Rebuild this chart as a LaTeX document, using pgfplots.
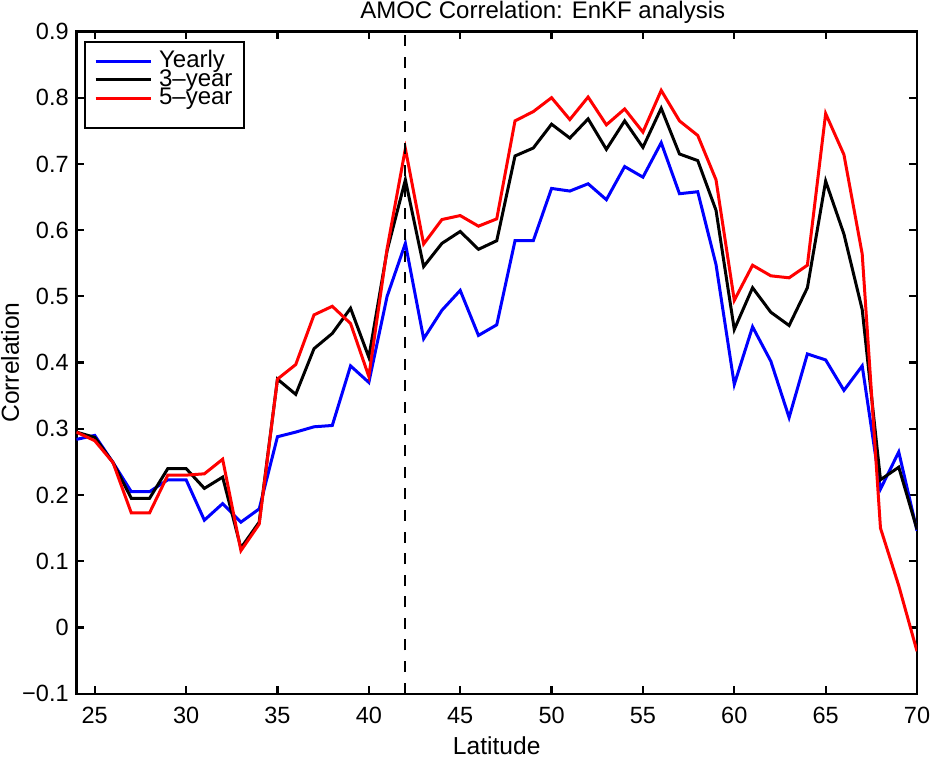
\documentclass[border=0pt]{standalone}
\usepackage{fontspec}
\setmainfont{Liberation Sans}
\usepackage{pgfplots}
\pgfplotsset{compat=1.18}
\pgfplotstableread{
lat yearly three five
24 0.284 0.295 0.295
25 0.290 0.287 0.282
26 0.249 0.249 0.249
27 0.205 0.195 0.173
28 0.205 0.195 0.173
29 0.223 0.240 0.230
30 0.223 0.240 0.230
31 0.162 0.210 0.232
32 0.187 0.227 0.254
33 0.159 0.120 0.116
34 0.179 0.159 0.156
35 0.288 0.375 0.375
36 0.295 0.352 0.397
37 0.303 0.421 0.472
38 0.305 0.444 0.485
39 0.395 0.482 0.459
40 0.370 0.408 0.379
41 0.500 0.569 0.572
42 0.580 0.676 0.723
43 0.436 0.545 0.579
44 0.479 0.580 0.616
45 0.509 0.598 0.622
46 0.441 0.571 0.606
47 0.457 0.584 0.617
48 0.584 0.712 0.765
49 0.584 0.724 0.779
50 0.663 0.760 0.800
51 0.659 0.739 0.767
52 0.670 0.768 0.801
53 0.646 0.722 0.759
54 0.696 0.765 0.783
55 0.680 0.725 0.748
56 0.732 0.784 0.811
57 0.655 0.715 0.765
58 0.658 0.705 0.743
59 0.548 0.630 0.676
60 0.367 0.450 0.494
61 0.454 0.513 0.547
62 0.402 0.476 0.531
63 0.317 0.456 0.528
64 0.413 0.513 0.547
65 0.404 0.674 0.776
66 0.358 0.594 0.714
67 0.395 0.480 0.564
68 0.209 0.223 0.150
69 0.265 0.242 0.063
70 0.146 0.148 -0.036
}\datatable
\begin{document}
\begin{tikzpicture}[font=\fontsize{12.3}{15}\selectfont]
\begin{axis}[
  scale only axis, width=420.5pt, height=331.25pt,
  xmin=24, xmax=70, ymin=-0.1, ymax=0.9,
  xtick={25,30,...,70},
  ytick={-0.1,0,0.1,0.2,0.3,0.4,0.5,0.6,0.7,0.8,0.9},
  yticklabels={−0.1,0,0.1,0.2,0.3,0.4,0.5,0.6,0.7,0.8,0.9},
  /pgf/number format/assume math mode=true,
  tick align=inside, major tick length=3.85pt,
  axis line style={line width=1.1pt},
  every tick/.style={black, line width=1.1pt},
  ticklabel style={font=\fontsize{11.75}{14}\selectfont},
  xticklabel style={yshift=-3.1pt},
  yticklabel style={xshift=-0.4pt},
  title={AMOC Correlation: EnKF analysis},
  every axis title/.style={at={([xshift=23pt,yshift=6.6pt]axis description cs:0.5,1)}, anchor=base, inner sep=0pt, font=\fontsize{12}{14}\selectfont},
  xlabel={Latitude},
  every axis x label/.style={at={([yshift=-30.3pt]axis description cs:0.5,0)}, anchor=base, inner sep=0pt},
  ylabel={Correlation},
  every axis y label/.style={at={([xshift=-28.8pt]axis description cs:0,0.5)}, rotate=90, anchor=base, inner sep=0pt},
  legend style={at={([xshift=8.85pt,yshift=-10.35pt]axis description cs:0,1)}, anchor=north west,
    draw=none, fill=none, inner sep=0pt, outer sep=0pt, row sep=0pt,
    nodes={inner sep=0pt, text height=7.9pt, text depth=1.35pt, font=\fontsize{12}{14}\selectfont},
    /tikz/every odd column/.style={column sep=3.5pt}},
  legend cell align=left,
  legend image code/.code={\draw[#1] (0pt,0pt) -- (27.5pt,0pt);},
]
\addplot[blue, line width=1.5pt] table[x=lat, y=yearly] {\datatable};
\addlegendentry{Yearly}
\addplot[black, line width=1.5pt] table[x=lat, y=three] {\datatable};
\addlegendentry{3–year}
\addplot[red, line width=1.5pt] table[x=lat, y=five] {\datatable};
\addlegendentry{5–year}
\addplot[black, line width=1pt, dash pattern=on 5.5pt off 5.3pt, forget plot] coordinates {(42,-0.1) (42,0.9)};
\draw[line width=0.9pt] ([xshift=4.35pt,yshift=-5.25pt]rel axis cs:0,1) rectangle ([xshift=83.85pt,yshift=-48.25pt]rel axis cs:0,1);
\end{axis}
\pgfresetboundingbox
\path ([shift={(-38.25pt,-32pt)}]current axis.south west) rectangle ([shift={(7.5pt,15.75pt)}]current axis.north east);
\end{tikzpicture}
\end{document}
